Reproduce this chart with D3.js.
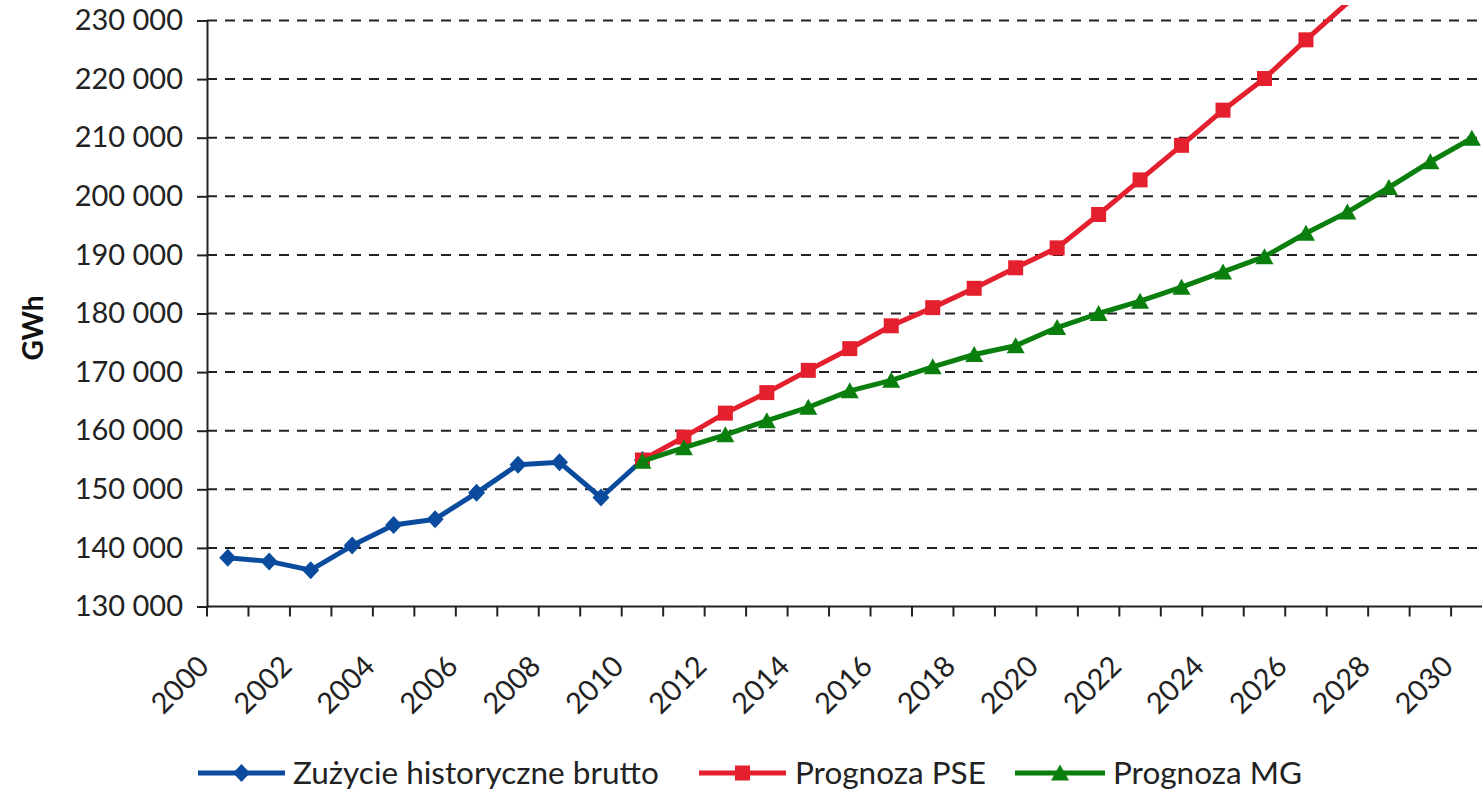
<!DOCTYPE html>
<html>
<head>
<meta charset="utf-8">
<script src="https://cdn.jsdelivr.net/npm/d3@7"></script>
<style>
  html, body { margin: 0; padding: 0; background: #fff; }
  svg { display: block; font-family: Lato, "Open Sans", sans-serif; }
</style>
</head>
<body>
<svg id="chart" width="1482" height="790"></svg>
<script>
// ---- data ----
const years = [2000,2001,2002,2003,2004,2005,2006,2007,2008,2009,2010,
               2011,2012,2013,2014,2015,2016,2017,2018,2019,2020,
               2021,2022,2023,2024,2025,2026,2027,2028,2029,2030];
const histYears = [2000,2001,2002,2003,2004,2005,2006,2007,2008,2009,2010];
const histValues = [138300,137700,136200,140400,143900,144900,149400,154200,154600,148600,155000];
const pseYears = [2010,2011,2012,2013,2014,2015,2016,2017,2018,2019,2020,2021,2022,2023,2024,2025,2026,2027];
const pseValues = [155000,158900,163000,166500,170300,174000,177900,181000,184300,187800,191200,196900,202800,208700,214700,220100,226700,233000];
const mgYears = [2010,2011,2012,2013,2014,2015,2016,2017,2018,2019,2020,2021,2022,2023,2024,2025,2026,2027,2028,2029,2030];
const mgValues = [154800,157100,159300,161700,164000,166800,168600,170900,173000,174500,177600,180000,182100,184500,187100,189700,193700,197300,201500,205900,209900];
const yTicks = [130000,140000,150000,160000,170000,180000,190000,200000,210000,220000,230000];
const xLabelYears = [2000,2002,2004,2006,2008,2010,2012,2014,2016,2018,2020,2022,2024,2026,2028,2030];
const seriesNames = ["Zużycie historyczne brutto", "Prognoza PSE", "Prognoza MG"];
const seriesColors = ["#0a4b9e", "#e4202e", "#0a7f0e"];

// ---- layout ----
const svg = d3.select("#chart");
const plotLeft = 207, plotTop = 20.5, plotBottom = 606.5;
const band = 41.47;
const x = d3.scaleBand().domain(years).range([plotLeft, plotLeft + band * years.length]).paddingInner(0).paddingOuter(0);
const cx = d => x(d) + x.bandwidth() / 2;
const y = d3.scaleLinear().domain([130000, 230000]).range([plotBottom, plotTop]);
const yMax = y.domain()[1];
const fmt = v => d3.format(",")(v).replace(/,/g, " ");

svg.append("rect").attr("width", 1482).attr("height", 790).attr("fill", "#fff");

// gridlines
svg.append("g").selectAll("line")
  .data(yTicks.filter(t => t > 130000))
  .join("line")
  .attr("x1", plotLeft).attr("x2", 1482)
  .attr("y1", d => y(d)).attr("y2", d => y(d))
  .attr("stroke", "#222").attr("stroke-width", 2)
  .attr("stroke-dasharray", "10,8");

// y axis
const yAxis = svg.append("g").attr("transform", `translate(${plotLeft},0)`)
  .call(d3.axisLeft(y).tickValues(yTicks).tickFormat(fmt).tickSize(10).tickPadding(14));
yAxis.select(".domain").attr("stroke", "#222").attr("stroke-width", 2);
yAxis.selectAll(".tick line").attr("stroke", "#222").attr("stroke-width", 2);
yAxis.selectAll(".tick text").attr("font-size", 29).attr("fill", "#222").attr("font-family", "Lato");

// x axis
const xTickPos = years.map(d => x(d)).concat([x(years[years.length - 1]) + band]);
const xAxis = svg.append("g");
xAxis.append("line").attr("x1", plotLeft).attr("x2", 1482).attr("y1", plotBottom).attr("y2", plotBottom)
  .attr("stroke", "#222").attr("stroke-width", 2);
xAxis.selectAll("line.tk").data(xTickPos).join("line").attr("class", "tk")
  .attr("x1", d => d).attr("x2", d => d).attr("y1", plotBottom).attr("y2", plotBottom + 10)
  .attr("stroke", "#222").attr("stroke-width", 2);
xAxis.selectAll("text").data(xLabelYears).join("text")
  .attr("transform", d => `translate(${cx(d) - 17},668) rotate(-45)`)
  .attr("text-anchor", "end")
  .attr("font-size", 29).attr("fill", "#222")
  .text(d => d);

// y title
svg.append("text").attr("transform", "translate(43,328) rotate(-90)")
  .attr("text-anchor", "middle").attr("font-size", 28).attr("font-weight", "bold").attr("fill", "#111")
  .text("GWh");

// clip (line continues past the top of the picture)
svg.append("clipPath").attr("id", "clipTop").append("rect")
  .attr("x", 0).attr("y", 5).attr("width", 1482).attr("height", 785);

// markers
const diamond = "M0,-9L8.5,0L0,9L-8.5,0Z";
const square = "M-7.5,-7.5H7.5V7.5H-7.5Z";
const triangle = "M0,-8.5L9,7.5L-9,7.5Z";
const markerPaths = [diamond, square, triangle];

const line = d3.line().x(d => cx(d[0])).y(d => y(d[1]));
const seriesData = [
  d3.zip(histYears, histValues),
  d3.zip(pseYears, pseValues),
  d3.zip(mgYears, mgValues)
];

seriesData.forEach((data, i) => {
  const g = svg.append("g").attr("clip-path", "url(#clipTop)");
  g.append("path").datum(data).attr("d", line)
    .attr("fill", "none").attr("stroke", seriesColors[i]).attr("stroke-width", 5)
    .attr("stroke-linejoin", "round");
  g.selectAll("path.m").data(data.filter(d => d[1] <= yMax)).join("path").attr("class", "m")
    .attr("transform", d => `translate(${cx(d[0])},${y(d[1])})`)
    .attr("d", markerPaths[i]).attr("fill", seriesColors[i]);
});

// legend
const legendItems = [
  { x0: 198, x1: 285, tx: 293 },
  { x0: 699, x1: 786, tx: 795 },
  { x0: 1015, x1: 1105, tx: 1113 }
];
const ly = 773;
legendItems.forEach((it, i) => {
  const g = svg.append("g");
  g.append("line").attr("x1", it.x0).attr("x2", it.x1).attr("y1", ly).attr("y2", ly)
    .attr("stroke", seriesColors[i]).attr("stroke-width", 5);
  g.append("path").attr("transform", `translate(${(it.x0 + it.x1) / 2},${ly})`)
    .attr("d", markerPaths[i]).attr("fill", seriesColors[i]);
  g.append("text").attr("x", it.tx).attr("y", ly + 11).attr("font-size", 31.5).attr("fill", "#222")
    .text(seriesNames[i]);
});
</script>
</body>
</html>
